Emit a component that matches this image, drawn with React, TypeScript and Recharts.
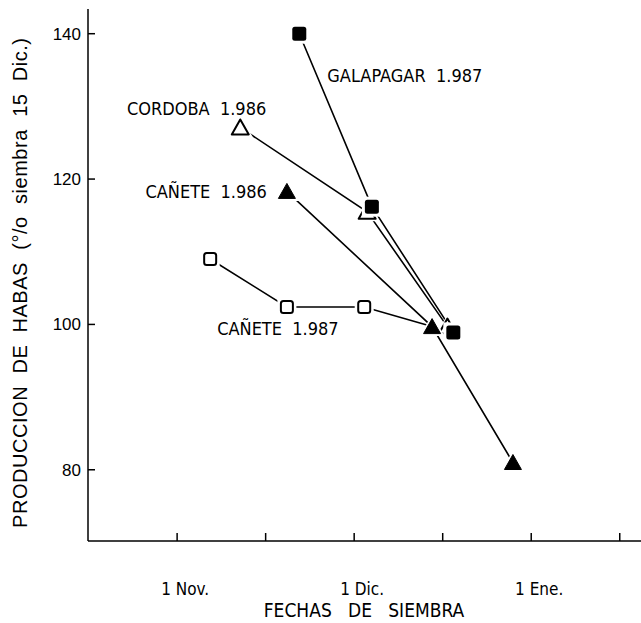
import React from 'react'
import { LineChart, Line, XAxis, YAxis, Label } from 'recharts'

// x = days after 1 Nov (1 Dic = 30, 1 Ene = 60), y = % of 15 Dic sowing
const galapagar87 = [
    { x: 20.7, y: 140 },
    { x: 33.0, y: 116.2 },
    { x: 46.8, y: 98.9 },
]
const cordoba86 = [
    { x: 10.7, y: 127.1 },
    { x: 32.2, y: 115.5 },
    { x: 45.8, y: 99.7 },
]
const canete86 = [
    { x: 18.6, y: 118.3 },
    { x: 43.2, y: 99.7 },
    { x: 56.9, y: 81.0 },
]
const canete87 = [
    { x: 5.6, y: 109.0 },
    { x: 18.6, y: 102.4 },
    { x: 31.7, y: 102.4 },
    { x: 43.2, y: 99.7 },
]

const xTicks = [0, 15, 30, 45, 60, 75]
const xTickLabels: Record<number, string> = { 0: '1 Nov.', 30: '1 Dic.', 60: '1 Ene.' }
const yTicks = [80, 100, 120, 140]

const COND = "'DejaVu Sans Condensed', 'DejaVu Sans', sans-serif"
const SANS = "'Liberation Sans', Arial, sans-serif"
const INK = '#000'
const pre = { whiteSpace: 'pre' as const }

type Shape = 'filledSquare' | 'openSquare' | 'filledTri' | 'openTri'

function Marker({ cx, cy, shape }: { cx: number; cy: number; shape: Shape }) {
    if (cx == null || cy == null) return null
    if (shape === 'filledSquare') {
        return (
            <g>
                <rect x={cx - 10} y={cy - 10} width={20} height={20} fill="#fff" />
                <rect x={cx - 7} y={cy - 7} width={14} height={14} rx={2.5} fill={INK} />
            </g>
        )
    }
    if (shape === 'openSquare') {
        return (
            <g>
                <rect x={cx - 9.5} y={cy - 9.5} width={19} height={19} fill="#fff" />
                <rect x={cx - 6} y={cy - 6} width={12} height={12} rx={2.5} fill="#fff" stroke={INK} strokeWidth={2} />
            </g>
        )
    }
    const w = 17
    const h = 14
    const pts = `${cx},${cy - h / 2 - 1} ${cx + w / 2},${cy + h / 2} ${cx - w / 2},${cy + h / 2}`
    const halo = `${cx},${cy - h / 2 - 5} ${cx + w / 2 + 4},${cy + h / 2 + 2.5} ${cx - w / 2 - 4},${cy + h / 2 + 2.5}`
    return (
        <g>
            <polygon points={halo} fill="#fff" />
            {shape === 'filledTri' ? (
                <polygon points={pts} fill={INK} strokeLinejoin="round" stroke={INK} strokeWidth={1} />
            ) : (
                <polygon points={pts} fill="#fff" stroke={INK} strokeWidth={2} strokeLinejoin="round" />
            )}
        </g>
    )
}

const makeDot = (name: string, shape: Shape, skip: number[] = []) => (props: any) => {
    const { cx, cy, index } = props
    if (skip.includes(index)) return <g key={`${name}-${index}`} />
    return <Marker key={`${name}-${index}`} cx={cx} cy={cy} shape={shape} />
}

const makeLabel = (text: string, at: number, dx: number, dy: number, anchor: 'start' | 'end' | 'middle') => (props: any) => {
    const { x, y, index } = props
    if (index !== at) return <g key={`l-${text}-${index}`} />
    return (
        <text
            key={`l-${text}-${index}`}
            x={x + dx}
            y={y + dy}
            textAnchor={anchor}
            fontFamily={COND}
            fontSize={18}
            fill={INK}
            style={pre}
        >
            {text}
        </text>
    )
}

const YTick = (props: any) => {
    const { x, y, payload } = props
    return (
        <g>
            <line x1={x} x2={x + 7} y1={y} y2={y} stroke={INK} strokeWidth={1.5} />
            <text x={x - 7} y={y + 6} textAnchor="end" fontFamily={SANS} fontSize={17} fill={INK}>
                {payload.value}
            </text>
        </g>
    )
}

const XTick = (props: any) => {
    const { x, y, payload } = props
    const label = xTickLabels[payload.value]
    return (
        <g>
            <line x1={x} x2={x} y1={y} y2={y - 8} stroke={INK} strokeWidth={1.5} />
            {label && (
                <text x={x + 8} y={y + 54} textAnchor="middle" fontFamily={COND} fontSize={17} fill={INK}>
                    {label}
                </text>
            )}
        </g>
    )
}

export default function App() {
    return (
        <div style={{ position: 'absolute', left: 0, top: 0, width: 641, height: 623, background: '#fff' }}>
            <LineChart width={641} height={623} margin={{ top: 9, right: 0, bottom: 0, left: 0 }}>
                <XAxis
                    type="number"
                    dataKey="x"
                    domain={[-15.1, 78.6]}
                    ticks={xTicks}
                    tick={<XTick />}
                    tickLine={false}
                    tickSize={0}
                    tickMargin={0}
                    height={82}
                    axisLine={{ stroke: INK, strokeWidth: 1.5 }}
                    allowDataOverflow
                >
                    <Label
                        content={() => (
                            <text
                                x={364}
                                y={617}
                                textAnchor="middle"
                                fontFamily={COND}
                                fontSize={19}
                                fill={INK}
                                style={pre}
                            >
                                FECHAS   DE   SIEMBRA
                            </text>
                        )}
                    />
                </XAxis>
                <YAxis
                    type="number"
                    dataKey="y"
                    domain={[70.2, 143.4]}
                    ticks={yTicks}
                    tick={<YTick />}
                    tickLine={false}
                    tickSize={0}
                    tickMargin={0}
                    width={88}
                    axisLine={{ stroke: INK, strokeWidth: 1.5 }}
                    allowDataOverflow
                >
                    <Label
                        content={() => (
                            <text
                                x={27}
                                y={283}
                                transform="rotate(-90 27 283)"
                                textAnchor="middle"
                                fontFamily={SANS}
                                fontSize={20}
                                fill={INK}
                                textLength={490}
                                lengthAdjust="spacing"
                                style={pre}
                            >
                                PRODUCCION  DE  HABAS  (°/o  siembra  15  Dic.)
                            </text>
                        )}
                    />
                </YAxis>
                <Line
                    data={canete87}
                    dataKey="y"
                    stroke={INK}
                    strokeWidth={1.6}
                    dot={makeDot('c87', 'openSquare', [3])}
                    label={makeLabel('CAÑETE  1.987', 1, -9, 28, 'middle')}
                    isAnimationActive={false}
                />
                <Line
                    data={cordoba86}
                    dataKey="y"
                    stroke={INK}
                    strokeWidth={1.6}
                    dot={makeDot('co86', 'openTri')}
                    label={makeLabel('CORDOBA  1.986', 0, 26, -12, 'end')}
                    isAnimationActive={false}
                />
                <Line
                    data={galapagar87}
                    dataKey="y"
                    stroke={INK}
                    strokeWidth={1.6}
                    dot={makeDot('g87', 'filledSquare')}
                    label={makeLabel('GALAPAGAR  1.987', 0, 28, 48, 'start')}
                    isAnimationActive={false}
                />
                <Line
                    data={canete86}
                    dataKey="y"
                    stroke={INK}
                    strokeWidth={1.6}
                    dot={makeDot('c86', 'filledTri')}
                    label={makeLabel('CAÑETE  1.986', 0, -20, 7, 'end')}
                    isAnimationActive={false}
                />
            </LineChart>
        </div>
    )
}
